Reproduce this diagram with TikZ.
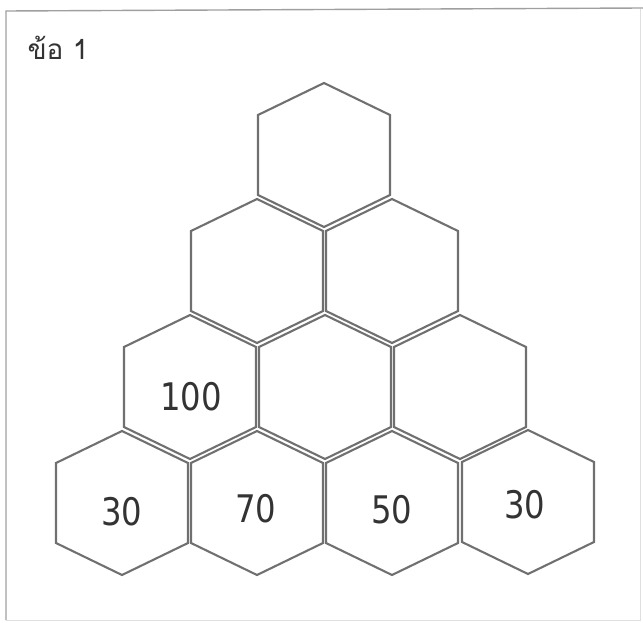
\documentclass[tikz,border=0pt]{standalone}
\usepackage{fontspec}
\newfontfamily\thaifont[Script=Thai]{Loma}
\newfontfamily\numfont[FakeStretch=0.85]{DejaVu Sans}
\definecolor{hexgray}{HTML}{707070}
\definecolor{inkgray}{HTML}{333333}
\tikzset{
  hexline/.style={draw=hexgray, line width=2.1pt, line join=miter},
  numlabel/.style={font=\numfont\fontsize{38}{40}\selectfont, text=inkgray, inner sep=0pt},
  framedark/.style={draw=gray!75, line width=1.4pt},
  framelight/.style={draw=gray!25, line width=0.8pt}
}
% one stretched hexagon round a named centre
\newcommand{\hexcell}[1]{%
  \draw[hexline] (#1) ++(0,-72) -- ++(66,32) -- ++(0,80) -- ++(-66,32)
    -- ++(-66,-32) -- ++(0,-80) -- cycle;}
\begin{document}
\begin{tikzpicture}[x=1pt, y=-1pt]
            \useasboundingbox (0,0) rectangle (643,623);
            %frame
            \draw[framelight] (640,9) -- (640,620) -- (6,620);
            \draw[framedark] (6,620) -- (6,11) -- (643,8);
            \node[anchor=base west, font=\thaifont\fontsize{28}{30}\selectfont, text=inkgray] (title) at (24,60) {ข้อ 1};

            %centres
            \coordinate (h11) at (324,155);
            \coordinate (h21) at (257,271);
            \coordinate (h22) at (392,271);
            \coordinate (h31) at (190,387);
            \coordinate (h32) at (325,387);
            \coordinate (h33) at (460,387);
            \coordinate (h41) at (122,503);
            \coordinate (h42) at (257,503);
            \coordinate (h43) at (392,503);
            \coordinate (h44) at (528,502);

            %hexagons
            \foreach \c in {h11,h21,h22,h31,h32,h33,h41,h42,h43,h44}
              {\hexcell{\c}}

            %numbers
            \node[numlabel] (v31) at (191,397) {100};
            \node[numlabel] (v41) at (122,512) {30};
            \node[numlabel] (v42) at (256,509) {70};
            \node[numlabel] (v43) at (392,510) {50};
            \node[numlabel] (v44) at (525,505) {30};
    \end{tikzpicture}
\end{document}
